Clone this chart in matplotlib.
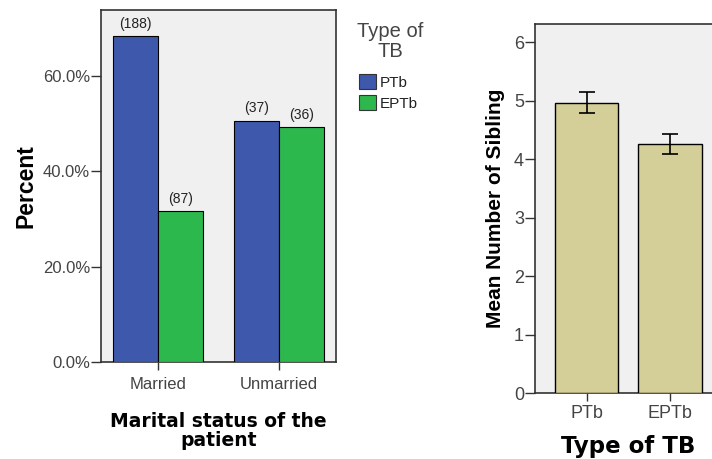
import matplotlib
matplotlib.use("Agg")
import matplotlib.pyplot as plt
from matplotlib.ticker import FuncFormatter

# ---- data ----
marital = ["Married", "Unmarried"]
tb_types = ["PTb", "EPTb"]
counts_ptb = [188, 37]
counts_eptb = [87, 36]
pct_ptb = [100 * 188 / 275, 100 * 37 / 73]
pct_eptb = [100 * 87 / 275, 100 * 36 / 73]

sib_means = [4.96, 4.25]
sib_err_low = [4.78, 4.08]
sib_err_high = [5.14, 4.43]

pct_ticks = [0, 20, 40, 60]
sib_ticks = [0, 1, 2, 3, 4, 5, 6]

BLUE = "#3e58ac"
GREEN = "#2db84d"
TAN = "#d4cf98"
BG = "#f0f0f0"
SPINE = "#333333"
TICKC = "#444444"

W, H = 712, 459
fig = plt.figure(figsize=(W / 100, H / 100), dpi=100)

def ax_rect(x0, y0, x1, y1):
    return [x0 / W, 1 - y1 / H, (x1 - x0) / W, (y1 - y0) / H]

sans = ["Liberation Sans", "DejaVu Sans"]

# ---- left chart ----
ax1 = fig.add_axes(ax_rect(101, 10, 336, 362))
ax1.set_facecolor(BG)
bw = 0.37
x = [0, 1]
b1 = ax1.bar([i - bw / 2 for i in x], pct_ptb, width=bw, color=BLUE,
             edgecolor="black", linewidth=0.8, zorder=3)
b2 = ax1.bar([i + bw / 2 for i in x], pct_eptb, width=bw, color=GREEN,
             edgecolor="black", linewidth=0.8, zorder=3)
for bars, cnts in ((b1, counts_ptb), (b2, counts_eptb)):
    for r, c in zip(bars, cnts):
        ax1.annotate(f"({c})", (r.get_x() + r.get_width() / 2, r.get_height()),
                     xytext=(0, 4), textcoords="offset points",
                     ha="center", va="bottom", fontsize=10, color="#222222",
                     family=sans)
ax1.set_xlim(-0.47, 1.47)
ax1.set_ylim(0, 73.9)
ax1.set_yticks(pct_ticks)
ax1.yaxis.set_major_formatter(FuncFormatter(lambda v, p: f"{v:.1f}%"))
ax1.set_xticks(x)
ax1.set_xticklabels(marital)
ax1.tick_params(axis="y", length=7, width=1, color=SPINE, labelsize=12,
                labelcolor=TICKC, pad=1)
ax1.tick_params(axis="x", length=6, width=1, color=SPINE, labelsize=12,
                labelcolor=TICKC, pad=5)
for lab in ax1.get_xticklabels() + ax1.get_yticklabels():
    lab.set_family(sans)
for s in ax1.spines.values():
    s.set_color(SPINE)
    s.set_linewidth(1.2)
ax1.set_ylabel("Percent", fontsize=16.5, fontweight="bold", family=sans, labelpad=4)
ax1.set_xlabel("Marital status of the\npatient", fontsize=13.5, fontweight="bold",
               family=["DejaVu Sans"], labelpad=14, linespacing=1.05)

# legend: title as text, entries as legend
fig.text(390 / W, 1 - 22 / H, "Type of\nTB", ha="center", va="top",
         fontsize=14.5, color=TICKC, family=sans, linespacing=1.05,
         multialignment="center")
leg = fig.legend(handles=[b1, b2], labels=tb_types,
                 loc="upper left", bbox_to_anchor=(359 / W, 1 - 74 / H),
                 frameon=False, handlelength=1.1, handleheight=1.1,
                 handletextpad=0.25, labelspacing=0.38, borderaxespad=0,
                 borderpad=0, prop={"family": sans, "size": 11})
for t in leg.get_texts():
    t.set_color("#222222")
for p in leg.get_patches():
    p.set_edgecolor("#333333")

# ---- right chart ----
ax2 = fig.add_axes(ax_rect(535, 24, 535 + 214, 393))
ax2.set_facecolor(BG)
xr = [0, 1]
yerr = [[m - lo for m, lo in zip(sib_means, sib_err_low)],
        [hi - m for m, hi in zip(sib_means, sib_err_high)]]
ax2.bar(xr, sib_means, width=0.755, color=TAN, edgecolor="black",
        linewidth=1.0, zorder=3)
ax2.errorbar(xr, sib_means, yerr=yerr, fmt="none", ecolor="black",
             elinewidth=1.2, capsize=6, capthick=1.2, zorder=4)
ax2.set_xlim(-0.617, -0.617 + 214 / 83.5)
ax2.set_ylim(0, 6.31)
ax2.set_yticks(sib_ticks)
ax2.set_xticks(xr)
ax2.set_xticklabels(tb_types)
ax2.tick_params(axis="y", length=7, width=1, color=SPINE, labelsize=13,
                labelcolor=TICKC, pad=1)
ax2.tick_params(axis="x", length=6, width=1, color=SPINE, labelsize=13,
                labelcolor=TICKC, pad=3)
for lab in ax2.get_xticklabels() + ax2.get_yticklabels():
    lab.set_family(sans)
for s in ax2.spines.values():
    s.set_color(SPINE)
    s.set_linewidth(1.2)
ax2.set_ylabel("Mean Number of Sibling", fontsize=15, fontweight="bold",
               family=sans, labelpad=6)
ax2.set_xlabel("Type of TB", fontsize=16.5, fontweight="bold",
               family=["DejaVu Sans"], labelpad=10)
ax2.xaxis.set_label_coords((628 - 535) / 214, -(446 - 393) / (393 - 24))
ax2.xaxis.label.set_va("center")

fig.savefig("out.png", dpi=100, facecolor="white")
